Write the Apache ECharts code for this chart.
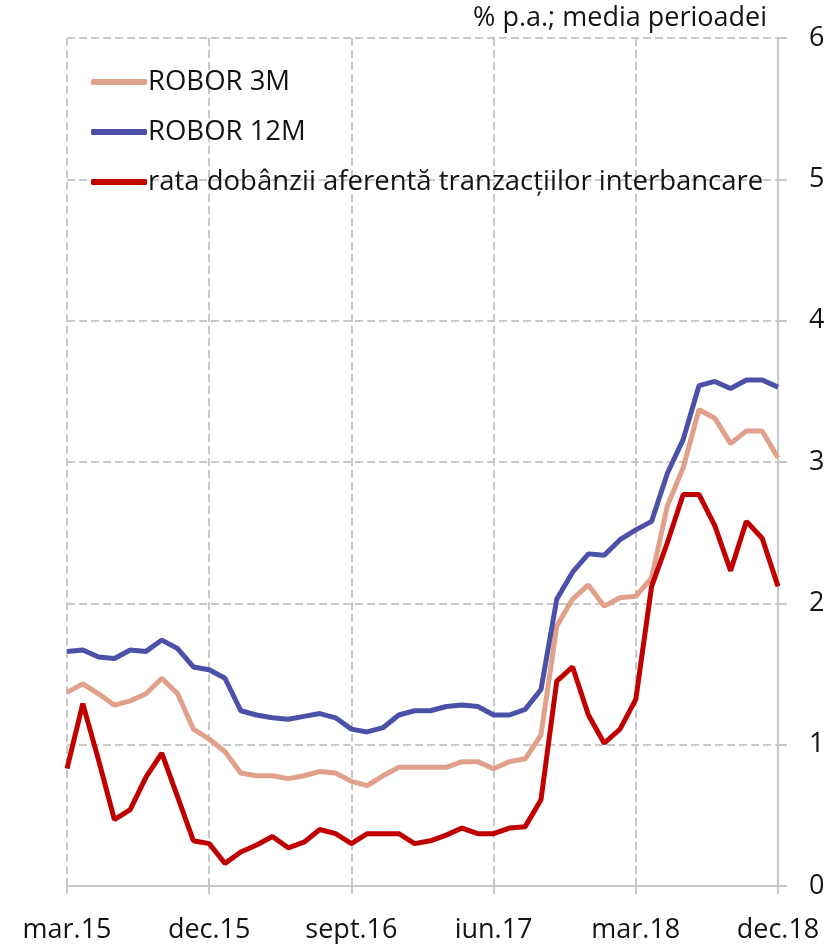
<!DOCTYPE html>
<html>
<head>
<meta charset="utf-8">
<script src="https://cdn.jsdelivr.net/npm/echarts@6/dist/echarts.min.js"></script>
<style>
  html, body { margin: 0; padding: 0; background: #fff; }
  #chart { width: 840px; height: 944px; }
</style>
</head>
<body>
<div id="chart"></div>
<script>
const months = [
  'mar.15', 'apr.15', 'mai.15', 'iun.15', 'iul.15', 'aug.15', 'sept.15', 'oct.15', 'nov.15', 'dec.15',
  'ian.16', 'feb.16', 'mar.16', 'apr.16', 'mai.16', 'iun.16', 'iul.16', 'aug.16', 'sept.16', 'oct.16',
  'nov.16', 'dec.16', 'ian.17', 'feb.17', 'mar.17', 'apr.17', 'mai.17', 'iun.17', 'iul.17', 'aug.17',
  'sept.17', 'oct.17', 'nov.17', 'dec.17', 'ian.18', 'feb.18', 'mar.18', 'apr.18', 'mai.18', 'iun.18',
  'iul.18', 'aug.18', 'sept.18', 'oct.18', 'nov.18', 'dec.18'
]

const robor3m = [
  1.37, 1.43, 1.36, 1.28, 1.31, 1.36, 1.47, 1.36, 1.11, 1.04,
  0.95, 0.80, 0.78, 0.78, 0.76, 0.78, 0.81, 0.80, 0.74, 0.71,
  0.78, 0.84, 0.84, 0.84, 0.84, 0.88, 0.88, 0.83, 0.88, 0.90,
  1.07, 1.84, 2.03, 2.13, 1.98, 2.04, 2.05, 2.18, 2.69, 2.96,
  3.37, 3.31, 3.13, 3.22, 3.22, 3.03
]

const robor12m = [
  1.66, 1.67, 1.62, 1.61, 1.67, 1.66, 1.74, 1.68, 1.55, 1.53,
  1.47, 1.24, 1.21, 1.19, 1.18, 1.20, 1.22, 1.19, 1.11, 1.09,
  1.12, 1.21, 1.24, 1.24, 1.27, 1.28, 1.27, 1.21, 1.21, 1.25,
  1.39, 2.03, 2.22, 2.35, 2.34, 2.45, 2.52, 2.58, 2.92, 3.16,
  3.54, 3.57, 3.52, 3.58, 3.58, 3.53
]

const interbank = [
  0.83, 1.29, 0.89, 0.47, 0.54, 0.77, 0.94, 0.63, 0.32, 0.30,
  0.16, 0.24, 0.29, 0.35, 0.27, 0.31, 0.40, 0.37, 0.30, 0.37,
  0.37, 0.37, 0.30, 0.32, 0.36, 0.41, 0.37, 0.37, 0.41, 0.42,
  0.61, 1.45, 1.55, 1.21, 1.01, 1.11, 1.32, 2.12, 2.43, 2.77,
  2.77, 2.55, 2.23, 2.58, 2.46, 2.12
]

const FONT = '"Open Sans", "Noto Sans", sans-serif'
const GRID = '#c8c8c8'
const TEXT = '#141414'

const chart = echarts.init(document.getElementById('chart'))

function line(name, data, color) {
  return {
    name,
    type: 'line',
    data,
    symbol: 'none',
    lineStyle: { color, width: 5 },
    itemStyle: { color }
  }
}

chart.setOption({
  animation: false,
  textStyle: { fontFamily: FONT },
  title: {
    text: '% p.a.; media perioadei',
    right: 68,
    top: 0,
    textStyle: { fontFamily: FONT, fontSize: 27, fontWeight: 'normal', color: TEXT }
  },
  legend: {
    orient: 'vertical',
    left: 86,
    top: 63,
    itemWidth: 56,
    itemHeight: 6,
    itemGap: 22,
    icon: 'roundRect',
    textStyle: { fontFamily: FONT, fontSize: 27.5, color: TEXT, padding: [0, 0, 0, -4] },
    data: ['ROBOR 3M', 'ROBOR 12M', 'rata dobânzii aferentă tranzacțiilor interbancare']
  },
  grid: { left: 67, right: 62, top: 38, bottom: 57, containLabel: false },
  xAxis: {
    type: 'category',
    data: months,
    boundaryGap: false,
    axisLine: { lineStyle: { color: GRID, width: 2 } },
    axisTick: { show: true, interval: 8, length: 10, lineStyle: { color: GRID, type: 'dashed', width: 2 } },
    axisLabel: { interval: 8, color: TEXT, fontSize: 27, margin: 31, fontFamily: FONT },
    splitLine: { show: true, interval: 8, lineStyle: { color: GRID, type: 'dashed', width: 2 } }
  },
  yAxis: {
    type: 'value',
    position: 'right',
    min: 0,
    max: 6,
    interval: 1,
    axisLine: { show: true, lineStyle: { color: GRID, width: 2 } },
    axisTick: { show: true, length: 9, lineStyle: { color: GRID, width: 2 } },
    axisLabel: { color: TEXT, fontSize: 27, margin: 31, fontFamily: FONT },
    splitLine: { show: true, lineStyle: { color: GRID, type: 'dashed', width: 2 } }
  },
  series: [
    line('ROBOR 3M', robor3m, '#e0a089'),
    line('ROBOR 12M', robor12m, '#4b51a7'),
    line('rata dobânzii aferentă tranzacțiilor interbancare', interbank, '#c00000')
  ]
})
</script>
</body>
</html>
